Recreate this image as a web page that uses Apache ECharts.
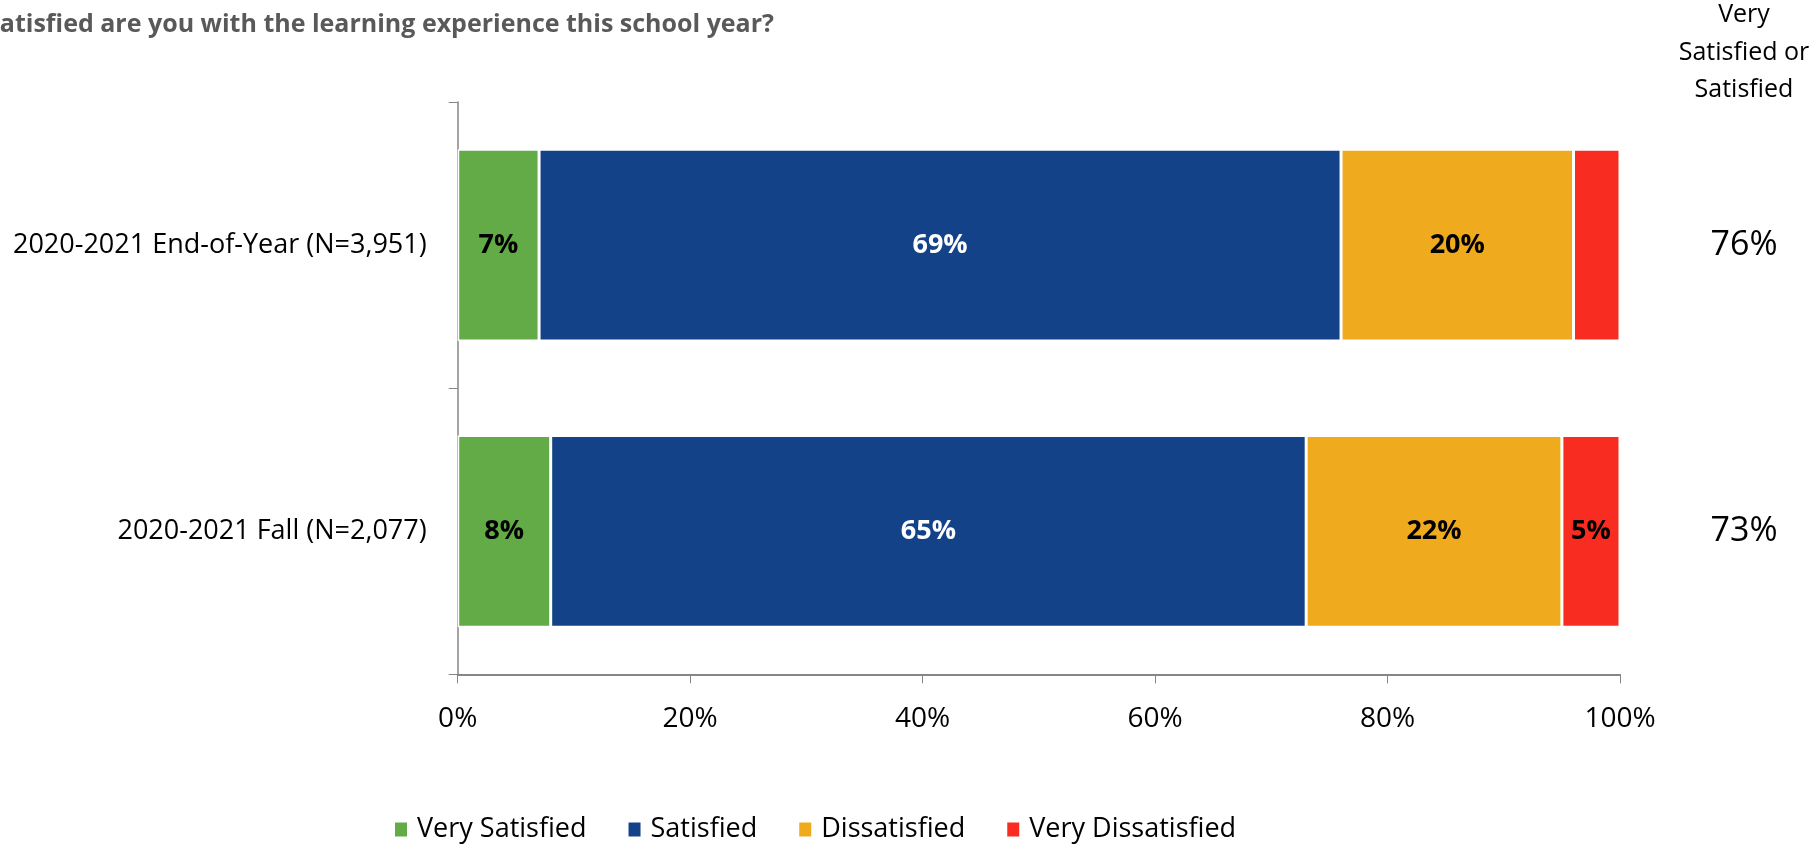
<!DOCTYPE html>
<html><head><meta charset="utf-8">
<script src="https://cdn.jsdelivr.net/npm/echarts@6/dist/echarts.min.js"></script>
<style>html,body{margin:0;padding:0;background:#fff}#c{width:1817px;height:846px}</style>
</head><body><div id="c"></div>
<script>
const categories = ['2020-2021 End-of-Year (N=3,951)', '2020-2021 Fall (N=2,077)'];
const seriesNames = ['Very Satisfied', 'Satisfied', 'Dissatisfied', 'Very Dissatisfied'];
const verySatisfied = [7, 8];
const satisfied = [69, 65];
const dissatisfied = [20, 22];
const veryDissatisfied = [4, 5];
const satisfiedTotals = [76, 73];
const xTicks = [0, 20, 40, 60, 80, 100];
const titleText = 'How satisfied are you with the learning experience this school year?';
const sideHeaderLines = ['Very', 'Satisfied or', 'Satisfied'];

const colors = ['#62AB47', '#134289', '#F0AA1E', '#F92C22'];
const labelColors = ['#000', '#fff', '#000', '#000'];
const values = [verySatisfied, satisfied, dissatisfied, veryDissatisfied];
const FONT = 'Open Sans';

const chart = echarts.init(document.getElementById('c'), null, {renderer: 'canvas'});
const series = seriesNames.map((n, i) => ({
  name: n, type: 'bar', stack: 'total', barCategoryGap: '33%',
  data: values[i],
  itemStyle: {color: colors[i], borderColor: '#fff', borderWidth: 1.5},
  label: {show: true, position: 'inside', color: labelColors[i], fontWeight: 'bold',
    fontSize: 27, fontFamily: FONT,
    formatter: p => p.value < 5 ? '' : p.value + '%'}
}));
chart.setOption({
  animation: false,
  textStyle: {fontFamily: FONT},
  grid: {left: 457.7, right: 197, top: 102, bottom: 171.6, containLabel: false},
  xAxis: {type: 'value', min: xTicks[0], max: xTicks[xTicks.length - 1], interval: 20,
    axisLine: {show: true, lineStyle: {color: '#868686', width: 2}},
    axisTick: {show: true, length: 9, lineStyle: {color: '#868686', width: 1}},
    splitLine: {show: false},
    axisLabel: {formatter: '{value}%', fontSize: 28, color: '#000', margin: 31, fontFamily: FONT}},
  yAxis: {type: 'category', data: categories, inverse: true,
    axisLine: {show: true, lineStyle: {color: '#868686', width: 1.5}},
    axisTick: {show: true, length: 9, lineStyle: {color: '#868686'}},
    axisLabel: {fontSize: 27, color: '#000', margin: 31, fontFamily: FONT}},
  legend: {data: seriesNames, left: 388, top: 811, icon: 'rect', itemWidth: 14, itemHeight: 16,
    itemGap: 40, textStyle: {fontSize: 27, color: '#000', fontFamily: FONT, padding: [0, 0, 0, 4]}},
  series: series
});
const g = [
  {type: 'text', x: 774, y: 25, style: {text: titleText, fill: '#595959',
    font: 'bold 25px "' + FONT + '"', textAlign: 'right', textVerticalAlign: 'middle'}}
];
sideHeaderLines.forEach((t, i) => {
  g.push({type: 'text', x: 1744, y: 15 + i * 37.5, style: {text: t, fill: '#000',
    font: '25px "' + FONT + '"', textAlign: 'center', textVerticalAlign: 'middle'}});
});
categories.forEach((c, i) => {
  const y = chart.convertToPixel({yAxisIndex: 0}, c);
  g.push({type: 'text', x: 1744, y: y, style: {text: satisfiedTotals[i] + '%', fill: '#000',
    font: '34px "' + FONT + '"', textAlign: 'center', textVerticalAlign: 'middle'}});
});
chart.setOption({graphic: g});
</script></body></html>
